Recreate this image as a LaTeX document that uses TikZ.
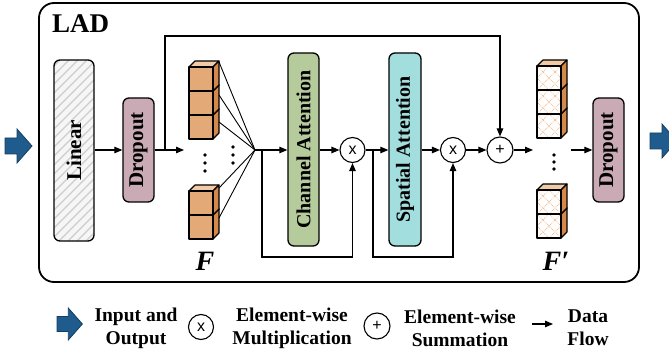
\documentclass[tikz,border=0pt]{standalone}
\usepackage{fontspec}
\setmainfont{Liberation Serif}
\newfontfamily\sansf{Liberation Sans}
\usetikzlibrary{arrows.meta,calc}
\definecolor{ioblue}{HTML}{1F5B8C}
\definecolor{ioedge}{HTML}{163F5E}
\definecolor{dropc}{HTML}{CAAAB5}
\definecolor{chanc}{HTML}{B5CB9B}
\definecolor{spac}{HTML}{A3DEDF}
\definecolor{cfront}{HTML}{E3A977}
\definecolor{cside}{HTML}{D4884A}
\definecolor{ctop}{HTML}{F0CBA5}
\definecolor{xhatch}{HTML}{F0BE94}
\definecolor{linfill}{HTML}{F6F6F6}
\definecolor{linhatch}{HTML}{CDCDCD}
\newcommand{\cubeOr}[2]{%
  \draw[line width=1.1pt, line join=round, fill=ctop] (#1,#2) -- ++(6,-6) -- ++(24,0) -- ++(-6,6) -- cycle;
  \draw[line width=1.1pt, line join=round, fill=cside] (#1+24,#2) -- ++(6,-6) -- ++(0,24) -- ++(-6,6) -- cycle;
  \draw[line width=1.1pt, line join=round, fill=cfront] (#1,#2) rectangle ++(24,24);
}
\newcommand{\cubeX}[2]{%
  \draw[line width=1.1pt, line join=round, fill=ctop] (#1,#2) -- ++(6,-6) -- ++(24,0) -- ++(-6,6) -- cycle;
  \draw[line width=1.1pt, line join=round, fill=cside] (#1+24,#2) -- ++(6,-6) -- ++(0,24) -- ++(-6,6) -- cycle;
  \fill[white] (#1,#2) rectangle ++(24,24);
  \draw[xhatch, line width=0.8pt, densely dotted] (#1,#2) -- ++(24,24) (#1+24,#2) -- ++(-24,24)
     (#1+12,#2) -- ++(12,12) -- ++(-12,12) -- ++(-12,-12) -- cycle;
  \draw[line width=1.1pt, line join=round] (#1,#2) rectangle ++(24,24);
}
\newcommand{\ioarrow}[3]{% x, y-center, scale
  \draw[fill=ioblue, draw=ioedge, line width=0.8pt, line join=miter]
    (#1,#2-8*#3) -- (#1+12*#3,#2-8*#3) -- (#1+12*#3,#2-17*#3) -- (#1+27*#3,#2) --
    (#1+12*#3,#2+17*#3) -- (#1+12*#3,#2+8*#3) -- (#1,#2+8*#3) -- cycle;
}
\begin{document}
\begin{tikzpicture}[x=1pt,y=-1pt,
  conn/.style={line width=1.1pt},
  arr/.style={conn,-{Triangle[length=8pt,width=6.5pt]}},
  blk/.style={draw, line width=1.3pt, rounded corners=6pt, inner sep=0pt},
  blklbl/.style={rotate=90, font=\fontsize{21}{24}\selectfont\bfseries, inner sep=0pt},
  attlbl/.style={rotate=90, font=\fontsize{20}{24}\selectfont\bfseries, inner sep=0pt},
  opc/.style={draw, circle, line width=1.1pt, minimum size=25pt, inner sep=0pt, fill=white, font=\sansf\fontsize{16}{16}\selectfont},
  lgd/.style={align=center, font=\fontsize{19.5}{23}\selectfont\bfseries, inner sep=0pt},
  flbl/.style={font=\fontsize{28}{30}\selectfont\bfseries\itshape, inner sep=0pt},
]
\useasboundingbox (0,0) rectangle (669,358);

% outer box
\node[draw, line width=1.8pt, rounded corners=15pt, minimum width=600pt, minimum height=279pt, inner sep=0pt] (lad) at (339,142.5) {};
\node[anchor=base west, font=\fontsize{27}{30}\selectfont\bfseries, inner sep=0pt] (title) at (52,33) {LAD};

% input / output arrows
\ioarrow{5}{146}{1}
\ioarrow{650}{141}{1}

% Linear block with hatch
\begin{scope}
  \clip[rounded corners=6pt] (54,60) rectangle (94,241);
  \fill[linfill] (54,60) rectangle (94,241);
  \foreach \i in {0,...,26} \draw[linhatch, line width=1.2pt] (-130+\i*9,241) -- ++(181,-181);
\end{scope}
\node[blk, minimum width=40pt, minimum height=181pt] (lin) at (74,150.5) {};
\node[blklbl] (linl) at (lin) {Linear};

% Dropout 1
\node[blk, fill=dropc, minimum width=31pt, minimum height=104pt] (dr1) at (138.5,150) {};
\node[blklbl] (dr1l) at (dr1) {Dropout};

% Channel attention
\node[blk, fill=chanc, minimum width=31pt, minimum height=193pt] (ca) at (303.5,149.5) {};
\node[attlbl] (cal) at (ca) {Channel Attention};

% Spatial attention
\node[blk, fill=spac, minimum width=32pt, minimum height=193pt] (sa) at (405,149.5) {};
\node[attlbl] (sal) at (sa) {Spatial Attention};

% Dropout 2
\node[blk, fill=dropc, minimum width=31pt, minimum height=104pt] (dr2) at (608.5,150) {};
\node[blklbl] (dr2l) at (dr2) {Dropout};

% operators
\node[opc] (mul1) at (352.5,150) {x};
\node[opc] (mul2) at (453,150) {x};
\node[opc, minimum size=26pt] (add) at (500,150) {+};

% F cubes
\cubeOr{189}{215}
\cubeOr{189}{191}
\cubeOr{189}{115}
\cubeOr{189}{91}
\cubeOr{189}{67}
\foreach \yy in {155,163,171} \fill (205,\yy) circle (1.9pt);
\foreach \yy in {147,155,163} \fill (233,\yy) circle (1.9pt);
\node[flbl] (fl) at (205,261) {F};

% F' cubes
\cubeX{537}{214}
\cubeX{537}{190}
\cubeX{537}{114}
\cubeX{537}{90}
\cubeX{537}{66}
\foreach \yy in {155,162,169} \fill (554,\yy) circle (1.9pt);
\node[flbl] (fpl) at (556,261) {F′};

% coordinates
\coordinate (conv) at (255,150);
\coordinate (t1) at (219,62);
\coordinate (t2) at (219,95);
\coordinate (t3) at (219,122);
\coordinate (b1) at (219,188);
\coordinate (b2) at (219,218);
\coordinate (fin) at (184,150);
\coordinate (tap0) at (165,150);
\coordinate (sk) at (165,36);
\coordinate (tap1) at (262,150);
\coordinate (by1) at (262,257);
\coordinate (tap2) at (373,150);
\coordinate (by2) at (373,257);
\coordinate (fpin) at (533,150);
\coordinate (fpout) at (571,150);

% connectors
\draw[arr] (lin.east |- dr1.west) -- (dr1.west);
\draw[arr] (dr1.east) -- (fin);
\draw[arr] (tap0) -- (sk) -| (add.north);
\foreach \p in {t1,t2,t3,b1,b2} \draw[line width=0.9pt] (\p) -- (conv);
\draw[arr] (conv) -- (ca.west |- conv);
\draw[arr] (tap1) -- (by1) -| (mul1.south);
\draw[arr] (ca.east |- mul1.west) -- (mul1.west);
\draw[arr] (mul1.east) -- (sa.west |- mul1.east);
\draw[arr] (tap2) -- (by2) -| (mul2.south);
\draw[arr] (sa.east |- mul2.west) -- (mul2.west);
\draw[arr] (mul2.east) -- (add.west);
\draw[arr] (add.east) -- (fpin);
\draw[arr] (fpout) -- (dr2.west);

% legend
\ioarrow{57}{324}{0.94}
\node[lgd] (lio) at (136,328) {Input and\\Output};
\node[opc] (lmul) at (201,327) {x};
\node[lgd] (lmt) at (292,328) {Element-wise\\Multiplication};
\node[opc, minimum size=26pt] (ladd) at (377,326) {+};
\node[lgd] (lat) at (460,328) {Element-wise\\Summation};
\coordinate (lfa) at (532,324);
\coordinate (lfb) at (553,324);
\draw[arr] (lfa) -- (lfb);
\node[lgd] (lft) at (588,328) {Data\\Flow};
\end{tikzpicture}
\end{document}
